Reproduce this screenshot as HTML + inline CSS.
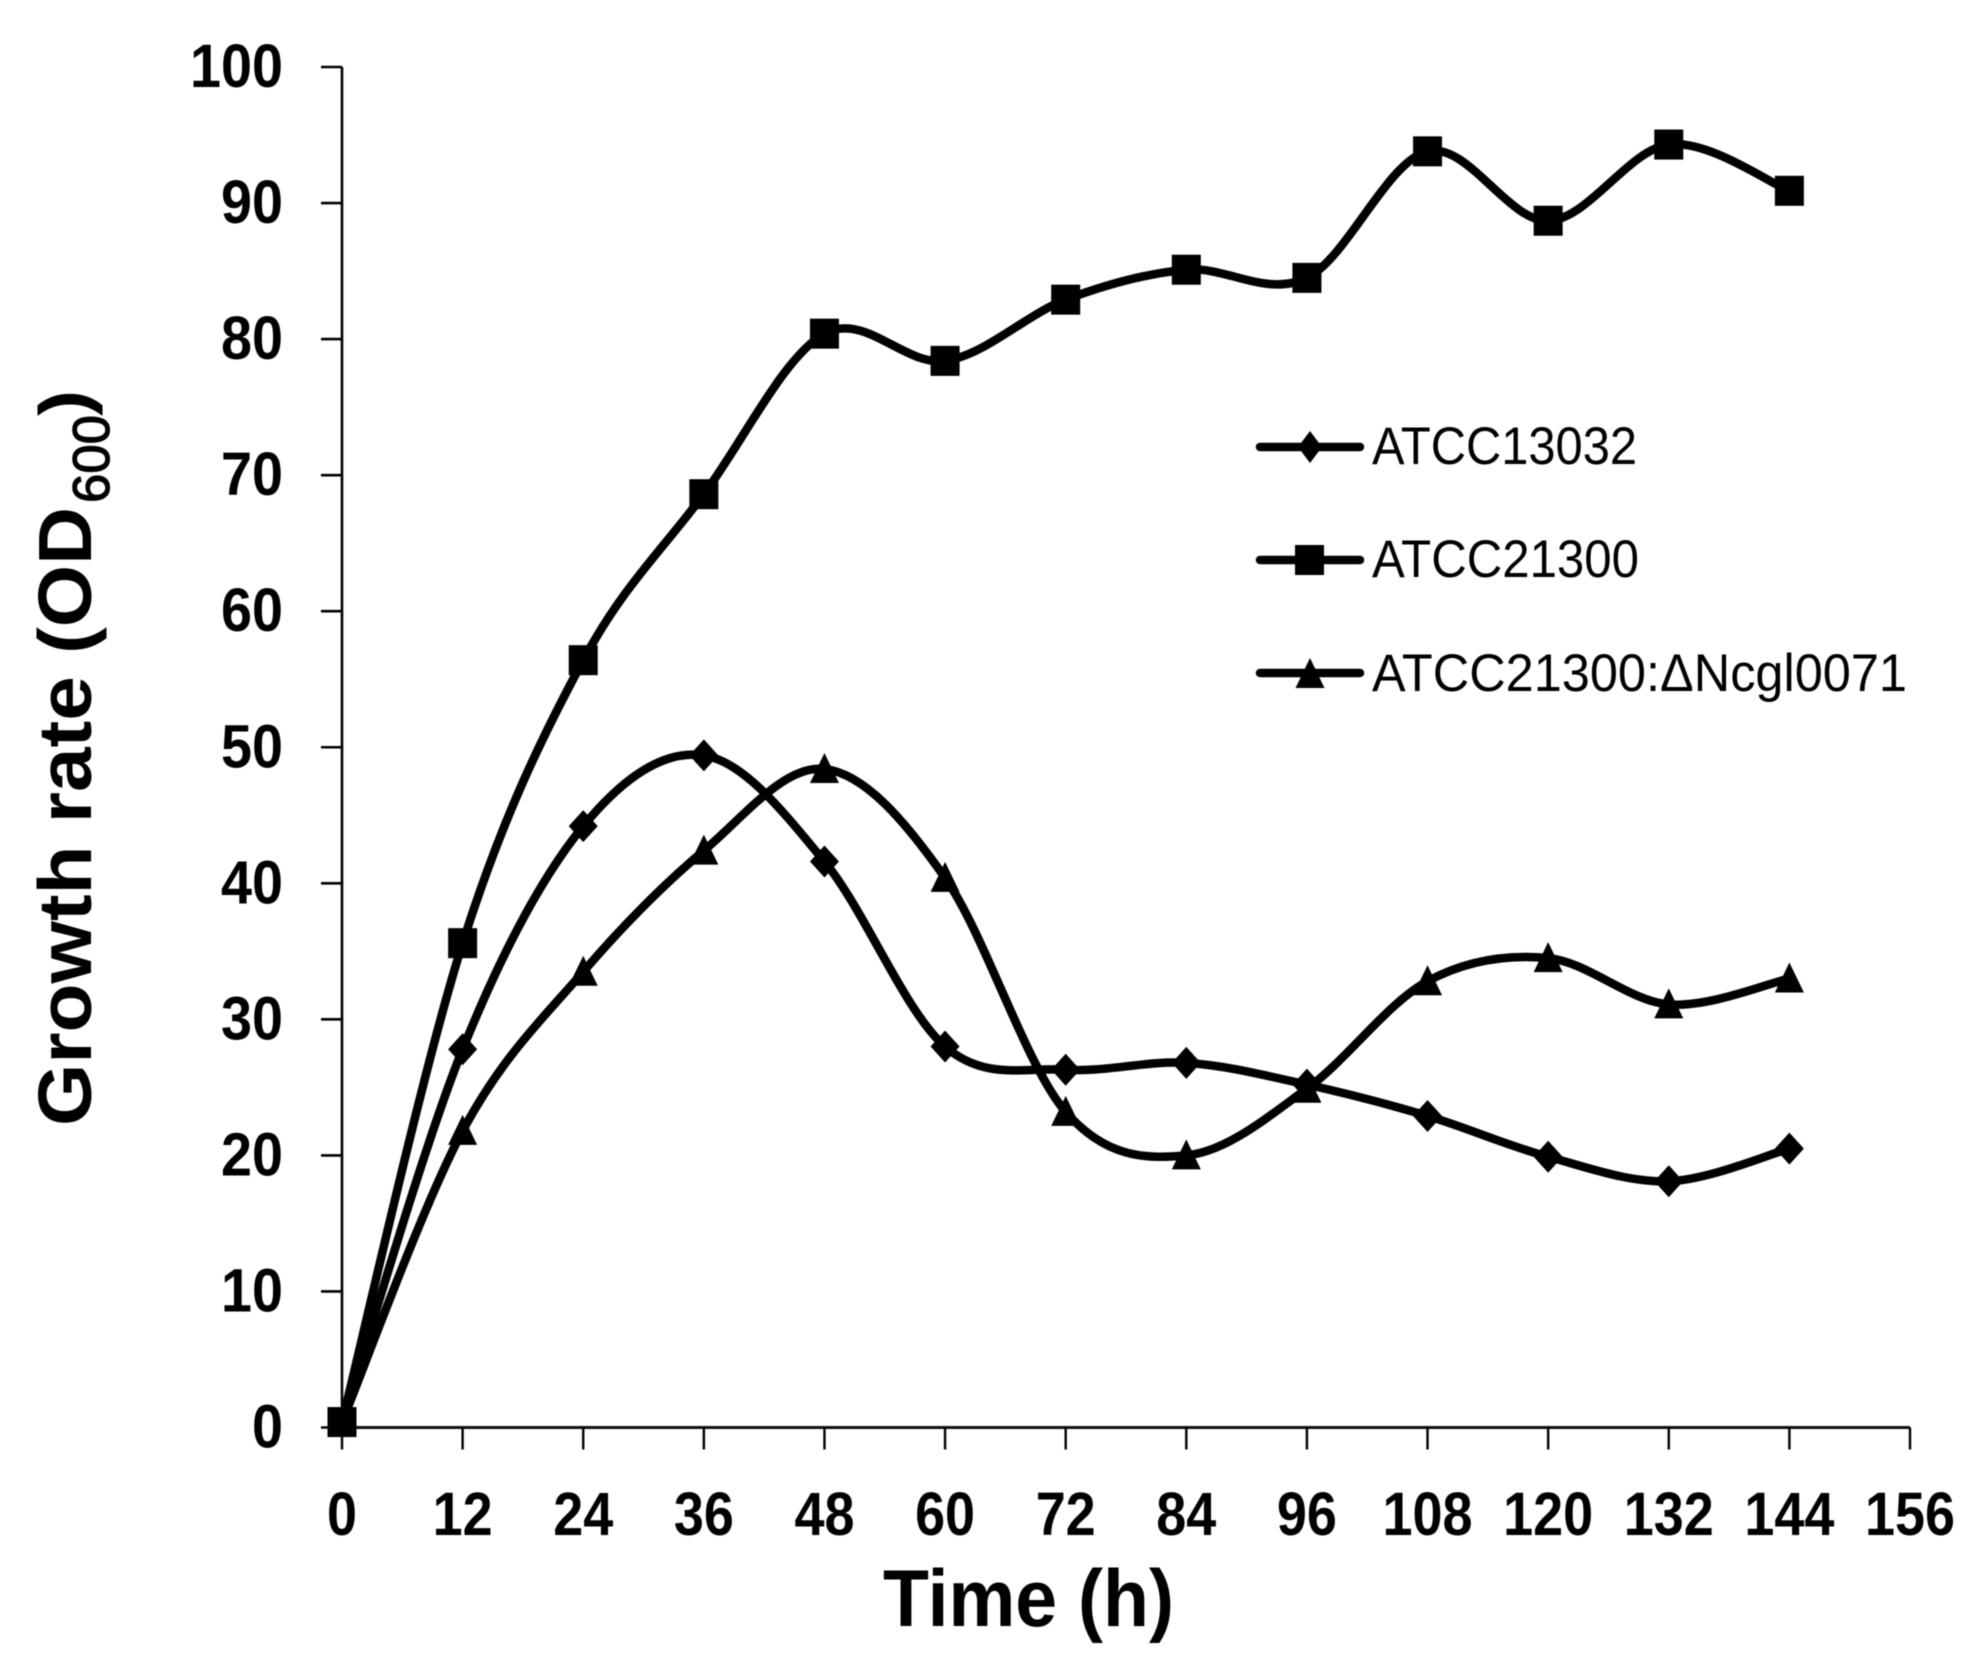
<!DOCTYPE html>
<html>
<head>
<meta charset="utf-8">
<title>Growth rate chart</title>
<style>
html,body{margin:0;padding:0;background:#fff;}
svg{display:block;filter:blur(0.5px);}
text{fill:#000;font-family:"Liberation Sans",sans-serif;}
</style>
</head>
<body>
<svg id="chart" xmlns="http://www.w3.org/2000/svg" width="1984" height="1660" viewBox="0 0 1984 1660">
<rect width="1984" height="1660" fill="#fff"/>
<g id="axes"></g>
<g id="series"></g>
<text x="883" y="1626" font-size="81" font-weight="700" textLength="291" lengthAdjust="spacingAndGlyphs">Time (h)</text>
<g>
<text transform="translate(91,1126) rotate(-90)" font-size="75" font-weight="700" textLength="619" lengthAdjust="spacingAndGlyphs">Growth rate (OD</text>
<text transform="translate(109,503) rotate(-90)" font-size="52" font-weight="400" stroke="#000" stroke-width="1.2" textLength="88" lengthAdjust="spacingAndGlyphs">600</text>
<text transform="translate(88,416) rotate(-90)" font-size="70" font-weight="700" textLength="26" lengthAdjust="spacingAndGlyphs">)</text>
</g>
<g id="legend">
<g>
<line x1="1260" y1="447" x2="1360" y2="447" stroke="#000" stroke-width="8.5" stroke-linecap="round"/>
<polygon points="1310,431 1322,447 1310,463 1298,447" fill="#000"/>
<text x="1372" y="464" font-size="53" textLength="265" lengthAdjust="spacingAndGlyphs">ATCC13032</text>
</g>
<g>
<line x1="1260" y1="560" x2="1360" y2="560" stroke="#000" stroke-width="8.5" stroke-linecap="round"/>
<rect x="1295" y="545" width="29" height="30" fill="#000"/>
<text x="1372" y="577" font-size="53" textLength="267" lengthAdjust="spacingAndGlyphs">ATCC21300</text>
</g>
<g>
<line x1="1260" y1="673" x2="1360" y2="673" stroke="#000" stroke-width="8.5" stroke-linecap="round"/>
<polygon points="1310,658 1324.5,688 1295.5,688" fill="#000"/>
<text x="1372" y="691" font-size="53" textLength="535" lengthAdjust="spacingAndGlyphs">ATCC21300:ΔNcgl0071</text>
</g>
</g>
</svg>
<script>
const hours = [0, 12, 24, 36, 48, 60, 72, 84, 96, 108, 120, 132, 144];
const atcc13032 = [0.4, 27.8, 44.2, 49.4, 41.6, 28.0, 26.3, 26.8, 25.2, 22.9, 19.9, 18.1, 20.5];
const atcc21300 = [0.4, 35.6, 56.4, 68.6, 80.4, 78.4, 82.9, 85.1, 84.5, 93.8, 88.7, 94.3, 90.9];
const atcc21300Mutant = [0.4, 21.8, 33.5, 42.4, 48.4, 40.4, 23.2, 20.0, 24.9, 32.8, 34.5, 31.1, 33.0];
const xTickLabels = [0, 12, 24, 36, 48, 60, 72, 84, 96, 108, 120, 132, 144, 156];
const yTickLabels = [0, 10, 20, 30, 40, 50, 60, 70, 80, 90, 100];

const NS = 'http://www.w3.org/2000/svg';
const xScale = function (v) { return 342 + v * (1568 / 156); };
const yScale = function (v) { return 1427.5 - v * 13.605; };
const axes = document.getElementById('axes');
const seriesGroup = document.getElementById('series');

function mk(tag, attrs, parent) {
  const el = document.createElementNS(NS, tag);
  for (const k in attrs) el.setAttribute(k, attrs[k]);
  parent.appendChild(el);
  return el;
}

const yAxisLine = mk('line', {x1: xScale(0), y1: yScale(100), x2: xScale(0), y2: yScale(0), stroke: '#000', 'stroke-width': 2.6}, axes);


const xAxisLine = mk('line', {x1: xScale(0), y1: yScale(0), x2: xScale(156), y2: yScale(0), stroke: '#111', 'stroke-width': 3}, axes);



yTickLabels.forEach(function (v) {
  const tick = mk('line', {x1: xScale(0) - 21, y1: yScale(v), x2: xScale(0), y2: yScale(v), stroke: '#000', 'stroke-width': 2.6}, axes);
  
  
  const s = String(v);
  const label = mk('text', {x: 283, y: yScale(v) + 20, 'font-size': 61, 'font-weight': 700, 'text-anchor': 'end', textLength: s.length * 31, lengthAdjust: 'spacingAndGlyphs'}, axes);
  label.textContent = s;
  
  
});

xTickLabels.forEach(function (v) {
  const tick = mk('line', {x1: xScale(v), y1: yScale(0), x2: xScale(v), y2: yScale(0) + 22, stroke: '#000', 'stroke-width': 2.4}, axes);
  
  
  const s = String(v);
  const label = mk('text', {x: xScale(v), y: 1535, 'font-size': 61, 'font-weight': 700, 'text-anchor': 'middle', textLength: s.length * 30, lengthAdjust: 'spacingAndGlyphs'}, axes);
  label.textContent = s;
  
  
});

function smoothPath(xs, ys) {
  const pts = xs.map(function (x, i) { return [xScale(x), yScale(ys[i])]; });
  let d = 'M' + pts[0][0] + ' ' + pts[0][1];
  for (let i = 0; i < pts.length - 1; i++) {
    const p0 = pts[Math.max(i - 1, 0)];
    const p1 = pts[i];
    const p2 = pts[i + 1];
    const p3 = pts[Math.min(i + 2, pts.length - 1)];
    const c1x = p1[0] + (p2[0] - p0[0]) / 6;
    const c1y = p1[1] + (p2[1] - p0[1]) / 6;
    const c2x = p2[0] - (p3[0] - p1[0]) / 6;
    const c2y = p2[1] - (p3[1] - p1[1]) / 6;
    d += 'C' + c1x + ' ' + c1y + ' ' + c2x + ' ' + c2y + ' ' + p2[0] + ' ' + p2[1];
  }
  return d;
}

function drawSeries(key, values, shape) {
  const line = mk('path', {d: smoothPath(hours, values), fill: 'none', stroke: '#000', 'stroke-width': 8.5, 'stroke-linejoin': 'round', 'stroke-linecap': 'round'}, seriesGroup);
  
  
  values.forEach(function (v, i) {
    const cx = xScale(hours[i]);
    const cy = yScale(v);
    let m;
    if (shape === 'square') {
      m = mk('rect', {x: cx - 14.5, y: cy - 15, width: 29, height: 30, fill: '#000'}, seriesGroup);
    } else if (shape === 'diamond') {
      m = mk('polygon', {points: [cx, cy - 16, cx + 14.5, cy, cx, cy + 16, cx - 14.5, cy].join(' '), fill: '#000'}, seriesGroup);
    } else {
      m = mk('polygon', {points: [cx, cy - 16, cx + 14.5, cy + 14, cx - 14.5, cy + 14].join(' '), fill: '#000'}, seriesGroup);
    }
    
    
  });
}

drawSeries('atcc13032', atcc13032, 'diamond');
drawSeries('atcc21300-dncgl0071', atcc21300Mutant, 'triangle');
drawSeries('atcc21300', atcc21300, 'square');
</script>
</body>
</html>
